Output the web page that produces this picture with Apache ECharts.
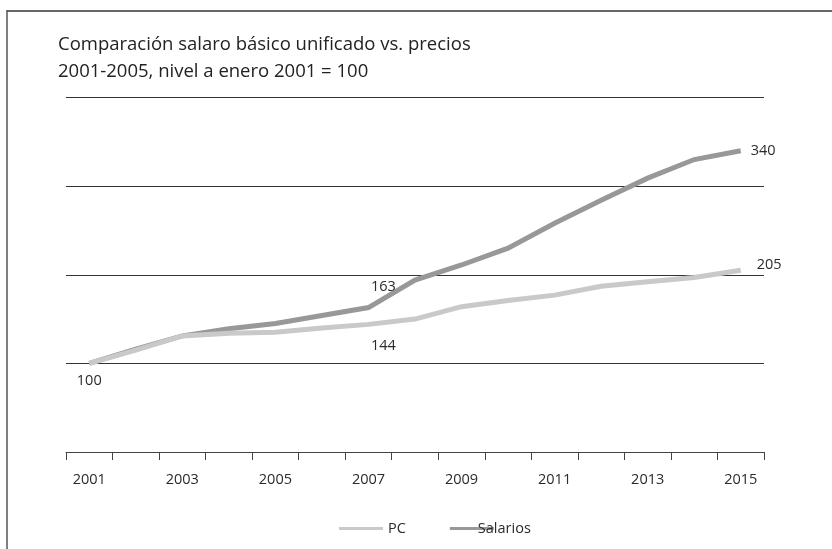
<!DOCTYPE html>
<html>
<head>
<meta charset="utf-8">
<script src="https://cdn.jsdelivr.net/npm/echarts@6/dist/echarts.min.js"></script>
<style>
html,body{margin:0;padding:0;background:#fff;}
#c{width:832px;height:549px;}
</style>
</head>
<body>
<div id="c"></div>
<script>
const years = ['2001','2002','2003','2004','2005','2006','2007','2008','2009','2010','2011','2012','2013','2014','2015'];
const pc       = [100, 115, 131, 134, 135, 140, 144, 150, 164, 171, 177, 187, 192, 197, 205];
const salarios = [100, 116, 131, 139, 145, 154, 163, 194, 211, 230, 258, 284, 309, 330, 340];
const yTicks = [0, 100, 200, 300, 400];
const titleLines = ['Comparación salaro básico unificado vs. precios', '2001-2005, nivel a enero 2001 = 100'];

const FONT = 'Open Sans';
const labelStyle = {fontFamily: FONT, fontSize: 14.5, color: '#2b2b2b'};

function buildData(values, labels) {
  return values.map((v, i) => {
    const item = {value: v};
    if (labels[i]) item.label = Object.assign({show: true, formatter: String(v)}, labelStyle, labels[i]);
    return item;
  });
}

const pcLabels = {
  6: {position: 'bottom', distance: 14, offset: [15, 0]},
  14: {position: 'right', distance: 16, offset: [0, -5]}
};
const salLabels = {
  0: {position: 'bottom', distance: 10},
  6: {position: 'top', distance: 13, offset: [15, 0]},
  14: {position: 'right', distance: 10}
};

const chart = echarts.init(document.getElementById('c'), null, {renderer: 'canvas'});
chart.setOption({
  animation: false,
  backgroundColor: '#fff',
  title: {
    text: titleLines.join('\n'),
    left: 53, top: 26,
    textStyle: {fontFamily: FONT, fontSize: 18.5, fontWeight: 'normal', color: '#222', lineHeight: 27}
  },
  graphic: [
    {type: 'line', shape: {x1: 7, y1: 11, x2: 832, y2: 11}, style: {stroke: '#666', lineWidth: 2}},
    {type: 'line', shape: {x1: 7, y1: 10, x2: 7, y2: 549}, style: {stroke: '#555', lineWidth: 1.5}}
  ],
  grid: {left: 66, right: 68, top: 97.5, bottom: 97},
  legend: {
    left: 334, top: 516,
    itemWidth: 44, itemHeight: 3, itemGap: 44,
    icon: 'rect',
    textStyle: {fontFamily: FONT, fontSize: 14.5, color: '#2b2b2b'},
    data: [
      {name: 'PC', itemStyle: {color: '#c9c9c9'}},
      {name: 'Salarios', itemStyle: {color: '#98989b'}, textStyle: {padding: [0, 0, 0, -21]}}
    ]
  },
  xAxis: {
    type: 'category',
    data: years,
    boundaryGap: true,
    axisLine: {lineStyle: {color: '#444', width: 1}},
    axisTick: {show: true, length: 8, interval: 0, lineStyle: {color: '#444'}},
    axisLabel: {interval: 1, fontFamily: FONT, fontSize: 14.5, color: '#2b2b2b', margin: 20}
  },
  yAxis: {
    type: 'value',
    min: yTicks[0], max: yTicks[yTicks.length - 1], interval: 100,
    axisLine: {show: false},
    axisTick: {show: false},
    axisLabel: {show: false},
    splitLine: {show: true, lineStyle: {color: '#333', width: 1}}
  },
  series: [
    {
      name: 'Salarios', type: 'line', data: buildData(salarios, salLabels),
      symbol: 'circle', symbolSize: 0.1, showSymbol: true, z: 2,
      lineStyle: {color: '#98989b', width: 5, cap: 'butt', join: 'miter'},
      itemStyle: {color: '#98989b'}
    },
    {
      name: 'PC', type: 'line', data: buildData(pc, pcLabels),
      symbol: 'circle', symbolSize: 0.1, showSymbol: true, z: 3,
      lineStyle: {color: '#c9c9c9', width: 5, cap: 'butt', join: 'miter'},
      itemStyle: {color: '#c9c9c9'}
    }
  ]
});
</script>
</body>
</html>
